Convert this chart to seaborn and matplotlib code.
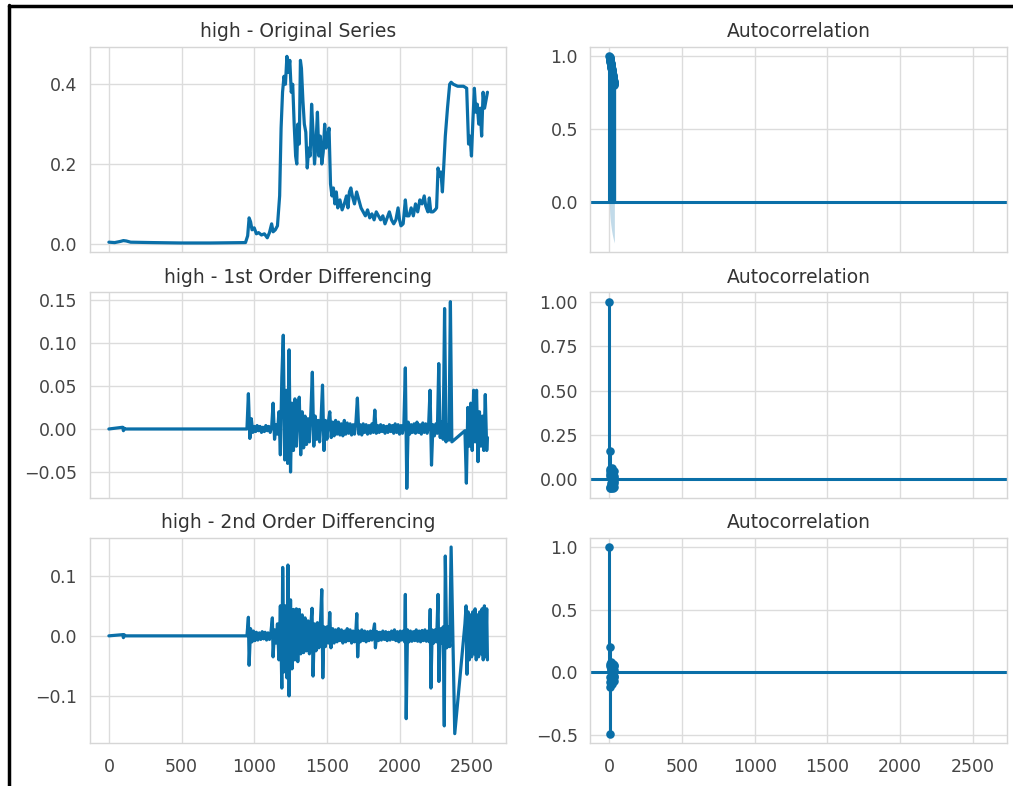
import matplotlib
matplotlib.use("Agg")
import matplotlib.pyplot as plt
from matplotlib.lines import Line2D
import seaborn as sns

# ---------------- data ----------------
series_titles = ["high - Original Series",
                 "high - 1st Order Differencing",
                 "high - 2nd Order Differencing"]
acf_title = "Autocorrelation"
x_ticks = [0, 500, 1000, 1500, 2000, 2500]

orig_x = [0, 40, 80, 100, 120, 150, 300, 500, 700, 940, 955, 965, 975, 985, 1000,
          1015, 1030, 1050, 1070, 1090, 1105, 1120, 1130, 1145, 1160, 1175, 1185,
          1195, 1205, 1215, 1225, 1235, 1245, 1255, 1265, 1275, 1285, 1293, 1300,
          1310, 1318, 1325, 1335, 1345, 1355, 1365, 1375, 1385, 1395, 1405, 1415,
          1425, 1435, 1445, 1455, 1465, 1475, 1485, 1495, 1505, 1515, 1525, 1535,
          1545, 1555, 1565, 1575, 1590, 1605, 1620, 1635, 1645, 1655, 1665, 1675,
          1690, 1705, 1720, 1735, 1750, 1765, 1780, 1795, 1810, 1825, 1840, 1855,
          1870, 1885, 1900, 1915, 1930, 1945, 1960, 1975, 1990, 2000, 2010, 2025,
          2040, 2050, 2065, 2080, 2095, 2110, 2125, 2140, 2155, 2170, 2180, 2195,
          2205, 2215, 2230, 2245, 2255, 2265, 2275, 2285, 2295, 2305, 2315, 2330,
          2345, 2355, 2370, 2400, 2440, 2462, 2475, 2485, 2495, 2505, 2515, 2525,
          2535, 2545, 2555, 2565, 2575, 2585, 2595, 2605]
orig_y = [0.004, 0.003, 0.006, 0.008, 0.007, 0.004, 0.003, 0.002, 0.002, 0.003, 0.020,
          0.065, 0.055, 0.035, 0.040, 0.025, 0.028, 0.022, 0.025, 0.015, 0.028, 0.050,
          0.030, 0.035, 0.045, 0.120, 0.290, 0.380, 0.420, 0.400, 0.470, 0.430, 0.460,
          0.380, 0.400, 0.300, 0.220, 0.200, 0.300, 0.250, 0.460, 0.440, 0.360, 0.300,
          0.280, 0.190, 0.240, 0.220, 0.350, 0.280, 0.200, 0.250, 0.330, 0.220, 0.270,
          0.200, 0.230, 0.300, 0.240, 0.270, 0.290, 0.150, 0.120, 0.140, 0.100, 0.130,
          0.090, 0.110, 0.085, 0.100, 0.120, 0.090, 0.130, 0.140, 0.120, 0.100, 0.130,
          0.110, 0.090, 0.080, 0.070, 0.085, 0.065, 0.075, 0.060, 0.080, 0.070, 0.060,
          0.070, 0.050, 0.065, 0.080, 0.060, 0.050, 0.060, 0.090, 0.060, 0.045, 0.050,
          0.110, 0.070, 0.070, 0.090, 0.070, 0.100, 0.080, 0.110, 0.100, 0.120, 0.095,
          0.080, 0.115, 0.080, 0.080, 0.085, 0.090, 0.190, 0.170, 0.180, 0.130, 0.200,
          0.270, 0.340, 0.400, 0.405, 0.400, 0.395, 0.395, 0.390, 0.250, 0.270, 0.220,
          0.310, 0.390, 0.330, 0.350, 0.300, 0.340, 0.270, 0.380, 0.340, 0.360, 0.380]

d1_x = [0, 95, 100, 105, 110, 950, 960, 970, 980, 990, 1000, 1010, 1020, 1030, 1040,
        1050, 1060, 1070, 1080, 1090, 1100, 1110, 1120, 1130, 1140, 1150, 1160, 1170,
        1180, 1190, 1200, 1210, 1220, 1230, 1240, 1250, 1260, 1270, 1280, 1290, 1300,
        1310, 1320, 1330, 1340, 1350, 1360, 1370, 1380, 1390, 1400, 1410, 1420, 1430,
        1440, 1450, 1460, 1470, 1480, 1490, 1500, 1510, 1520, 1530, 1540, 1550, 1560,
        1570, 1580, 1590, 1600, 1610, 1620, 1630, 1640, 1650, 1660, 1670, 1680, 1690,
        1700, 1710, 1720, 1730, 1740, 1750, 1760, 1770, 1780, 1790, 1800, 1810, 1820,
        1830, 1840, 1850, 1860, 1870, 1880, 1890, 1900, 1910, 1920, 1930, 1940, 1950,
        1960, 1970, 1980, 1990, 2000, 2010, 2020, 2030, 2040, 2050, 2060, 2070, 2080,
        2090, 2100, 2110, 2120, 2130, 2140, 2150, 2160, 2170, 2180, 2190, 2200, 2210,
        2220, 2230, 2240, 2250, 2260, 2270, 2280, 2290, 2300, 2310, 2320, 2330, 2340,
        2350, 2360, 2450, 2460, 2470, 2480, 2490, 2500, 2510, 2520, 2530, 2540, 2550,
        2560, 2570, 2580, 2590, 2600, 2605]
d1_y = [0.000, 0.002, -0.002, 0.001, 0.000, 0.000, 0.041, -0.011, 0.012, -0.004, 0.003,
        -0.003, 0.004, -0.002, 0.003, -0.004, 0.002, -0.003, 0.004, -0.002, 0.003,
        -0.004, 0.002, 0.030, -0.012, 0.005, -0.006, 0.020, -0.030, 0.060, 0.109,
        -0.036, 0.045, -0.040, 0.092, -0.050, 0.030, -0.025, 0.035, -0.020, 0.025,
        0.037, -0.030, 0.020, -0.022, 0.015, -0.018, 0.012, -0.015, 0.020, 0.066,
        -0.020, 0.015, -0.012, 0.010, -0.015, 0.012, 0.051, -0.025, 0.010, -0.012,
        0.008, 0.020, -0.010, 0.008, -0.008, 0.010, -0.006, 0.008, -0.007, 0.006,
        -0.008, 0.010, -0.006, 0.007, -0.005, 0.006, -0.007, 0.005, -0.006, 0.008,
        0.036, -0.006, 0.005, -0.007, 0.006, -0.004, 0.005, -0.006, 0.004, -0.005,
        0.006, -0.004, 0.022, -0.005, 0.004, -0.004, 0.005, -0.003, 0.004, -0.005,
        0.003, -0.004, 0.005, -0.003, 0.004, -0.005, 0.006, -0.004, 0.005, -0.006,
        0.004, -0.005, 0.006, 0.071, -0.069, 0.008, -0.006, 0.005, -0.004, 0.006,
        -0.005, 0.008, -0.004, 0.005, -0.006, 0.007, -0.004, 0.006, -0.005, 0.004,
        0.045, -0.042, 0.005, -0.008, 0.006, -0.005, 0.076, -0.010, 0.008, -0.012,
        0.140, -0.015, 0.005, -0.013, 0.148, -0.015, -0.002, -0.063, 0.025, -0.020,
        0.030, -0.025, 0.045, -0.015, 0.045, -0.038, 0.020, -0.020, 0.015, -0.025,
        0.040, -0.025, -0.010]

d2_x = [0, 95, 100, 105, 110, 950, 960, 965, 975, 985, 995, 1005, 1015, 1025, 1035,
        1045, 1055, 1065, 1075, 1085, 1095, 1105, 1115, 1125, 1130, 1140, 1150, 1160,
        1170, 1180, 1190, 1196, 1205, 1215, 1225, 1232, 1240, 1250, 1260, 1270, 1280,
        1290, 1300, 1310, 1320, 1330, 1340, 1350, 1360, 1370, 1380, 1390, 1398, 1405,
        1415, 1425, 1435, 1445, 1455, 1465, 1472, 1480, 1490, 1500, 1510, 1520, 1528,
        1540, 1550, 1560, 1570, 1580, 1590, 1600, 1610, 1620, 1630, 1640, 1650, 1660,
        1670, 1680, 1690, 1700, 1706, 1712, 1720, 1730, 1740, 1750, 1760, 1770, 1780,
        1790, 1800, 1810, 1820, 1828, 1834, 1845, 1855, 1865, 1875, 1885, 1895, 1905,
        1915, 1925, 1935, 1945, 1955, 1965, 1975, 1985, 1995, 2005, 2015, 2025, 2035,
        2040, 2046, 2055, 2065, 2075, 2085, 2095, 2105, 2115, 2125, 2135, 2145, 2155,
        2165, 2175, 2185, 2195, 2205, 2211, 2216, 2225, 2235, 2245, 2255, 2265, 2271,
        2280, 2290, 2300, 2308, 2315, 2325, 2335, 2345, 2355, 2380, 2450, 2458, 2464,
        2472, 2480, 2488, 2496, 2504, 2512, 2520, 2528, 2536, 2544, 2552, 2560, 2568,
        2576, 2584, 2592, 2600, 2605]
d2_y = [0.000, 0.002, -0.003, 0.002, 0.000, 0.000, 0.031, -0.049, 0.012, -0.010, 0.008,
        -0.008, 0.006, -0.007, 0.005, -0.006, 0.007, -0.005, 0.006, -0.007, 0.005,
        -0.006, 0.006, 0.030, -0.035, 0.010, -0.012, 0.020, -0.040, 0.050, -0.087,
        0.114, -0.060, 0.050, -0.070, 0.118, -0.100, 0.060, -0.055, 0.044, -0.040,
        0.045, -0.043, 0.044, -0.030, 0.035, -0.028, 0.030, -0.025, 0.025, -0.030,
        0.020, 0.046, -0.067, 0.020, -0.025, 0.022, -0.020, 0.018, 0.077, -0.070,
        0.015, -0.018, 0.015, -0.012, 0.039, -0.020, 0.012, -0.012, 0.010, -0.010,
        0.012, -0.008, 0.010, -0.012, 0.008, -0.010, 0.012, -0.008, 0.010, -0.012,
        0.008, -0.010, 0.010, 0.037, -0.035, 0.008, -0.010, 0.010, -0.008, 0.008,
        -0.010, 0.007, -0.008, 0.008, -0.007, 0.008, 0.020, -0.020, 0.007, -0.008,
        0.006, -0.007, 0.008, -0.006, 0.007, -0.008, 0.006, -0.007, 0.008, -0.006,
        0.010, -0.008, 0.007, -0.010, 0.008, -0.007, 0.008, -0.010, 0.069, -0.138,
        0.010, -0.010, 0.008, -0.009, 0.007, -0.008, 0.010, -0.009, 0.008, -0.010,
        0.009, -0.008, 0.010, -0.009, 0.008, -0.010, 0.044, -0.087, 0.010, -0.012,
        0.010, -0.010, 0.069, -0.076, 0.012, -0.012, 0.015, -0.150, 0.133, -0.020,
        0.015, -0.018, 0.148, -0.163, 0.020, 0.050, -0.064, 0.040, -0.040, 0.035,
        -0.035, 0.040, -0.030, 0.045, -0.040, 0.035, -0.035, 0.040, -0.030, 0.045,
        -0.040, 0.050, -0.035, 0.045, -0.040]

acf_lags = list(range(35))
acf_orig = [1.000, 0.995, 0.990, 0.985, 0.979, 0.973, 0.967, 0.961, 0.955, 0.950,
            0.944, 0.938, 0.932, 0.926, 0.920, 0.914, 0.908, 0.902, 0.896, 0.890,
            0.884, 0.878, 0.872, 0.866, 0.860, 0.855, 0.849, 0.843, 0.837, 0.831,
            0.826, 0.820, 0.815, 0.810, 0.805]
acf_d1 = [1.000, 0.160, 0.030, -0.050, 0.060, -0.040, 0.020, 0.050, -0.030, 0.010,
          -0.020, 0.040, -0.050, 0.020, 0.030, -0.010, 0.065, -0.030, 0.020, -0.040,
          0.010, 0.030, -0.020, 0.040, -0.050, 0.020, -0.010, 0.030, -0.030, 0.050,
          -0.020, 0.010, -0.040, 0.020, -0.010]
acf_d2 = [1.000, -0.490, 0.200, -0.120, 0.050, -0.080, 0.070, -0.040, 0.060, -0.070,
          0.030, -0.050, 0.080, -0.060, 0.020, 0.040, -0.090, 0.050, -0.030, 0.060,
          -0.050, 0.020, 0.070, -0.060, 0.030, -0.040, 0.050, -0.020, 0.040, -0.070,
          0.060, -0.030, 0.020, 0.050, -0.040]
conf_lags = list(range(1, 35))
conf_orig = [0.038, 0.066, 0.085, 0.100, 0.114, 0.125, 0.136, 0.145, 0.154, 0.163,
             0.170, 0.178, 0.185, 0.192, 0.198, 0.204, 0.210, 0.215, 0.221, 0.226,
             0.231, 0.236, 0.241, 0.245, 0.250, 0.254, 0.258, 0.262, 0.266, 0.270,
             0.273, 0.277, 0.280, 0.284]
conf_d1 = [0.038, 0.039, 0.039, 0.039, 0.040, 0.040, 0.040, 0.040, 0.040, 0.040,
           0.040, 0.040, 0.041, 0.041, 0.041, 0.041, 0.041, 0.041, 0.041, 0.041,
           0.041, 0.041, 0.041, 0.041, 0.041, 0.042, 0.042, 0.042, 0.042, 0.042,
           0.042, 0.042, 0.042, 0.042]
conf_d2 = [0.038, 0.047, 0.049, 0.050, 0.050, 0.050, 0.051, 0.051, 0.051, 0.051,
           0.052, 0.052, 0.052, 0.053, 0.053, 0.053, 0.053, 0.054, 0.054, 0.054,
           0.054, 0.054, 0.055, 0.055, 0.055, 0.055, 0.055, 0.055, 0.056, 0.056,
           0.056, 0.056, 0.056, 0.056]

# ---------------- style ----------------
BLUE = "#0a6fa8"
sns.set_theme(style="whitegrid", rc={
    "axes.edgecolor": "#d6d6d6",
    "axes.linewidth": 1.0,
    "grid.color": "#dcdcdc",
    "grid.linewidth": 1.0,
    "xtick.color": "#444444",
    "ytick.color": "#444444",
    "xtick.labelsize": 12.5,
    "ytick.labelsize": 12.5,
    "axes.titlesize": 13.5,
    "axes.titlecolor": "#333333",
    "xtick.major.pad": 11,
    "ytick.major.pad": 9,
    "axes.titlepad": 7,
})
plt.rcParams["font.family"] = ["DejaVu Sans"]

fig, axes = plt.subplots(3, 2, figsize=(10.13, 7.86), dpi=100, sharex=True)
fig.subplots_adjust(left=0.0888, right=0.994, bottom=0.0547, top=0.9402,
                    wspace=0.202, hspace=0.195)

series = [(orig_x, orig_y), (d1_x, d1_y), (d2_x, d2_y)]
acfs = [acf_orig, acf_d1, acf_d2]
confs = [conf_orig, conf_d1, conf_d2]

for r in range(3):
    ax = axes[r, 0]
    sx, sy = series[r]
    sns.lineplot(x=sx, y=sy, ax=ax, color=BLUE, linewidth=2.3,
                 estimator=None, sort=False)
    ax.set_title(series_titles[r])

    ax2 = axes[r, 1]
    acf = acfs[r]
    conf = confs[r]
    ax2.vlines(acf_lags, 0, acf, color=BLUE, linewidth=2.2)
    ax2.axhline(0, color=BLUE, linewidth=2.2)
    sns.scatterplot(x=acf_lags, y=acf, ax=ax2, color=BLUE, s=38,
                    linewidth=0, zorder=3)
    ax2.fill_between(conf_lags, [-c for c in conf], conf, color=BLUE,
                     alpha=0.25, linewidth=0)
    ax2.set_title(acf_title)

for ax in axes.flat:
    ax.set_xticks(x_ticks)
    ax.tick_params(length=0)
    ax.set_xlabel("")
    ax.set_ylabel("")
    for sp in ax.spines.values():
        sp.set_visible(True)
        sp.set_color("#d6d6d6")

# screenshot border (left and top black lines)
fig.add_artist(Line2D([8.5 / 1013, 8.5 / 1013], [0, 1 - 5 / 786],
                      transform=fig.transFigure, color="black", linewidth=2.5))
fig.add_artist(Line2D([8.5 / 1013, 1], [1 - 5.5 / 786, 1 - 5.5 / 786],
                      transform=fig.transFigure, color="black", linewidth=2.5))

fig.savefig("out.png", dpi=100)
